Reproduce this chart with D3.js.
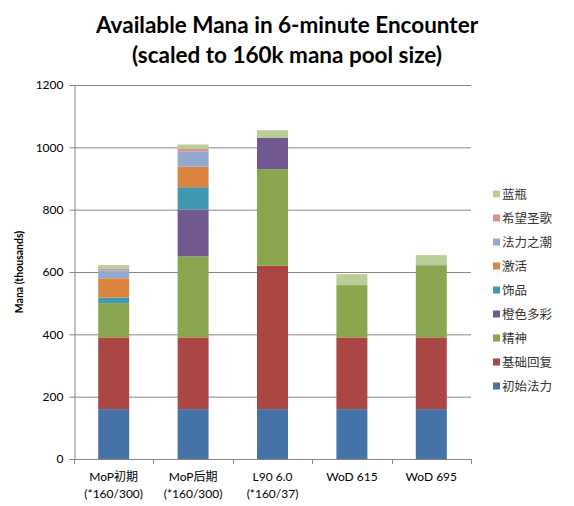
<!DOCTYPE html>
<html>
<head>
<meta charset="utf-8">
<script src="https://cdn.jsdelivr.net/npm/d3@7"></script>
<style>
  body { margin: 0; background: #fff; }
  svg { display: block; }
</style>
</head>
<body>
<div id="chart"></div>
<script>
const width = 574;
const height = 506;

// categories (x axis), two lines each
const categories = ["MoP初期", "MoP后期", "L90 6.0", "WoD 615", "WoD 695"];
const category_sub = ["(*160/300)", "(*160/300)", "(*160/37)", "", ""];

// stack series, bottom to top
const series_names = ["初始法力", "基础回复", "精神", "橙色多彩", "饰品", "激活", "法力之潮", "希望圣歌", "蓝瓶"];
const series_colors = ["#4572A7", "#AA4643", "#89A54E", "#71588F", "#4198AF", "#DB843D", "#93A9CF", "#D19392", "#B9CD96"];

const initial_mana = [160, 160, 160, 160, 160];
const base_regen   = [230, 230, 460, 230, 230];
const spirit       = [110, 260, 310, 168, 232];
const orange_gem   = [0, 150, 100, 0, 0];
const trinket      = [18, 72, 0, 0, 0];
const innervate    = [62, 66, 0, 0, 0];
const mana_tide    = [25, 48, 0, 0, 0];
const hymn_of_hope = [5, 10, 0, 0, 0];
const mana_potion  = [12, 13, 25, 35, 32];

const y_ticks = [0, 200, 400, 600, 800, 1000, 1200];

const series_values = [initial_mana, base_regen, spirit, orange_gem, trinket, innervate, mana_tide, hymn_of_hope, mana_potion];

const table = categories.map((c, i) => {
    const row = {category: c};
    series_names.forEach((s, j) => row[s] = series_values[j][i]);
    return row;
});

const margin = {left: 74, right: 103, top: 85, bottom: 47};

const x = d3.scaleBand()
    .domain(categories)
    .range([margin.left, width - margin.right])
    .paddingInner(0.61)
    .paddingOuter(0.305);

const y = d3.scaleLinear()
    .domain([0, 1200])
    .range([height - margin.bottom, margin.top]);

const color = d3.scaleOrdinal(series_names, series_colors);

const stacked = d3.stack().keys(series_names)(table);

const svg = d3.create("svg")
    .attr("width", width)
    .attr("height", height)
    .attr("viewBox", [0, 0, width, height])
    .style("font-family", "Lato, 'Noto Sans CJK SC', sans-serif");

const axis_color = "#868686";

// gridlines
svg.append("g")
    .selectAll("line")
    .data(y_ticks.slice(1))
    .join("line")
    .attr("x1", margin.left)
    .attr("x2", width - margin.right)
    .attr("y1", d => y(d) + 0.5)
    .attr("y2", d => y(d) + 0.5)
    .attr("stroke", axis_color)
    .attr("stroke-width", 1);

// bars
svg.append("g")
    .selectAll("g")
    .data(stacked)
    .join("g")
    .attr("fill", d => color(d.key))
    .selectAll("rect")
    .data(d => d)
    .join("rect")
    .attr("x", d => x(d.data.category))
    .attr("width", x.bandwidth())
    .attr("y", d => y(d[1]))
    .attr("height", d => y(d[0]) - y(d[1]));

// y axis
const y_axis = svg.append("g")
    .attr("transform", `translate(${margin.left + 0.5},0)`)
    .call(d3.axisLeft(y).tickValues(y_ticks).tickSize(5).tickPadding(6).tickFormat(d3.format("d")));
y_axis.select(".domain").attr("stroke", axis_color);
y_axis.selectAll(".tick line").attr("stroke", axis_color);
y_axis.selectAll(".tick text")
    .attr("font-size", 12)
    .attr("fill", "#000")
    .attr("font-family", "Lato, sans-serif");

// x axis line and boundary ticks
const x0 = x.range()[0];
const step = x.step();
const boundaries = d3.range(categories.length + 1).map(i => x0 + i * step);
const x_axis = svg.append("g");
x_axis.append("line")
    .attr("x1", x0)
    .attr("x2", x.range()[1])
    .attr("y1", y(0) + 0.5)
    .attr("y2", y(0) + 0.5)
    .attr("stroke", axis_color);
x_axis.selectAll(".btick")
    .data(boundaries)
    .join("line")
    .attr("class", "btick")
    .attr("x1", d => Math.round(d) + 0.5)
    .attr("x2", d => Math.round(d) + 0.5)
    .attr("y1", y(0))
    .attr("y2", y(0) + 5)
    .attr("stroke", axis_color);

const x_label = x_axis.selectAll(".xlabel")
    .data(categories)
    .join("text")
    .attr("class", "xlabel")
    .attr("text-anchor", "middle")
    .attr("font-size", 12)
    .attr("fill", "#000");
x_label.append("tspan")
    .attr("x", d => x(d) + x.bandwidth() / 2)
    .attr("y", y(0) + 22)
    .text(d => d);
x_label.append("tspan")
    .attr("x", d => x(d) + x.bandwidth() / 2)
    .attr("y", y(0) + 39)
    .text((d, i) => category_sub[i]);

// y axis title
svg.append("text")
    .attr("transform", `translate(23,${(y(0) + y(1200)) / 2}) rotate(-90)`)
    .attr("text-anchor", "middle")
    .attr("font-size", 10.5)
    .attr("font-weight", "bold")
    .text("Mana (thousands)");

// title
svg.append("text")
    .attr("x", 287)
    .attr("y", 33)
    .attr("text-anchor", "middle")
    .attr("font-size", 22.5)
    .attr("font-weight", "bold")
    .text("Available Mana in 6-minute Encounter");
svg.append("text")
    .attr("x", 287)
    .attr("y", 63)
    .attr("text-anchor", "middle")
    .attr("font-size", 22.5)
    .attr("font-weight", "bold")
    .text("(scaled to 160k mana pool size)");

// legend, top entry is last series
const legend = svg.append("g")
    .selectAll("g")
    .data(series_names.slice().reverse())
    .join("g")
    .attr("transform", (d, i) => `translate(493,${194 + i * 24})`);
legend.append("rect")
    .attr("x", 0)
    .attr("y", -3.5)
    .attr("width", 7)
    .attr("height", 7)
    .attr("fill", d => color(d));
legend.append("text")
    .attr("x", 9)
    .attr("y", 0)
    .attr("dy", "0.36em")
    .attr("font-size", 12.5)
    .attr("font-family", "'Noto Sans CJK SC', sans-serif")
    .attr("fill", "#333")
    .text(d => d);

document.getElementById("chart").append(svg.node());
</script>
</body>
</html>
